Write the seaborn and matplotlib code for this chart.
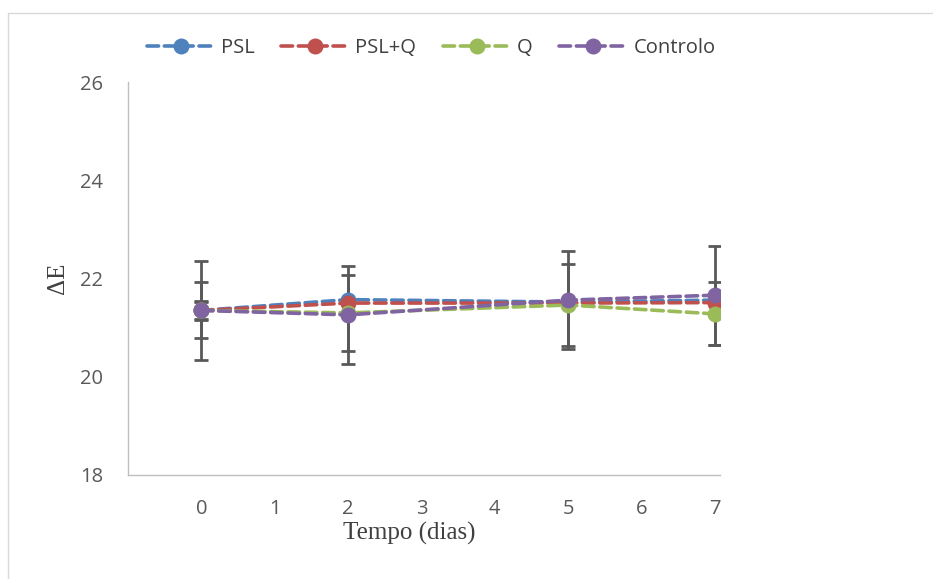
import matplotlib
matplotlib.use("Agg")
import matplotlib.pyplot as plt
import seaborn as sns
import pandas as pd
from matplotlib.patches import Rectangle

days = [0, 2, 5, 7]
series_names = ["PSL", "PSL+Q", "Q", "Controlo"]
psl = [21.35, 21.57, 21.52, 21.56]
psl_q = [21.35, 21.50, 21.50, 21.51]
q = [21.35, 21.30, 21.46, 21.28]
controlo = [21.35, 21.26, 21.56, 21.66]
err_psl = [0.20, 0.0, 0.0, 0.0]
err_psl_q = [0.17, 0.0, 0.0, 0.0]
err_q = [0.57, 0.77, 0.83, 0.64]
err_controlo = [1.00, 1.00, 1.00, 1.01]
x_ticks = [0, 1, 2, 3, 4, 5, 6, 7]
y_ticks = [18, 20, 22, 24, 26]

values = [psl, psl_q, q, controlo]
errors = [err_psl, err_psl_q, err_q, err_controlo]
colors = ["#4F81BD", "#C0504D", "#9BBB59", "#8064A2"]

rows = []
for name, vals, errs in zip(series_names, values, errors):
    for d, v, e in zip(days, vals, errs):
        rows.append({"dia": d, "valor": v, "erro": e, "serie": name})
df = pd.DataFrame(rows)

sns.set_style("white")
fig = plt.figure(figsize=(9.33, 5.79), dpi=100)
ax = fig.add_axes([128/933, 1-475/579, (720-128)/933, 393/579])

# error bars first (underneath the markers)
for name, col in zip(series_names, colors):
    sub = df[df["serie"] == name]
    ax.errorbar(sub["dia"], sub["valor"], yerr=sub["erro"], fmt="none",
                ecolor="#595959", elinewidth=2.0, capsize=4.8, capthick=2.0, zorder=1)

n_before = len(ax.get_lines())
for i, (name, col) in enumerate(zip(series_names, colors)):
    sub = df[df["serie"] == name]
    sns.lineplot(data=sub, x="dia", y="valor", ax=ax, color=col, marker="o",
                 markersize=11.5, markeredgewidth=0, linewidth=2.6,
                 dashes=False, label=name, zorder=3 + i, errorbar=None)
for line in ax.get_lines()[n_before:]:
    line.set_linestyle((0, (3.2, 1.6)))
    line.set_dash_capstyle("round")

ax.set_xlim(-1, 7.07)
ax.set_ylim(18, 26)
ax.set_xticks(x_ticks)
ax.set_yticks(y_ticks)
ax.tick_params(axis="both", length=0, labelsize=14.5, labelcolor="#595959")
ax.tick_params(axis="x", pad=17)
ax.tick_params(axis="y", pad=18)
for lab in ax.get_xticklabels() + ax.get_yticklabels():
    lab.set_family("Open Sans")

for s in ["top", "right"]:
    ax.spines[s].set_visible(False)
for s in ["left", "bottom"]:
    ax.spines[s].set_color("#BFBFBF")
    ax.spines[s].set_linewidth(1.0)

ax.set_xlabel("")
ax.set_ylabel("")
fig.text(409/933, 1-533/579, "Tempo (dias)", ha="center", va="center",
         fontsize=18, family="Liberation Serif", color="#404040")
fig.text(58/933, 1-278/579, "ΔE", ha="center", va="center", rotation=90,
         fontsize=18, family="Liberation Serif", color="#404040")

handles = ax.get_lines()[n_before:]
leg = ax.legend(handles, series_names, loc="center", bbox_to_anchor=(431/933, 1-48/579),
                bbox_transform=fig.transFigure, ncol=4, frameon=False,
                fontsize=14.5, handlelength=3.4, columnspacing=1.3, handletextpad=0.3)
for t in leg.get_texts():
    t.set_color("#404040")
    t.set_family("Open Sans")

fig.patches.append(Rectangle((8/933, -0.1), 2, 1 - 13/579 + 0.1,
                             transform=fig.transFigure, fill=False,
                             edgecolor="#D9D9D9", linewidth=1.0))

fig.savefig("out.png", dpi=100)
